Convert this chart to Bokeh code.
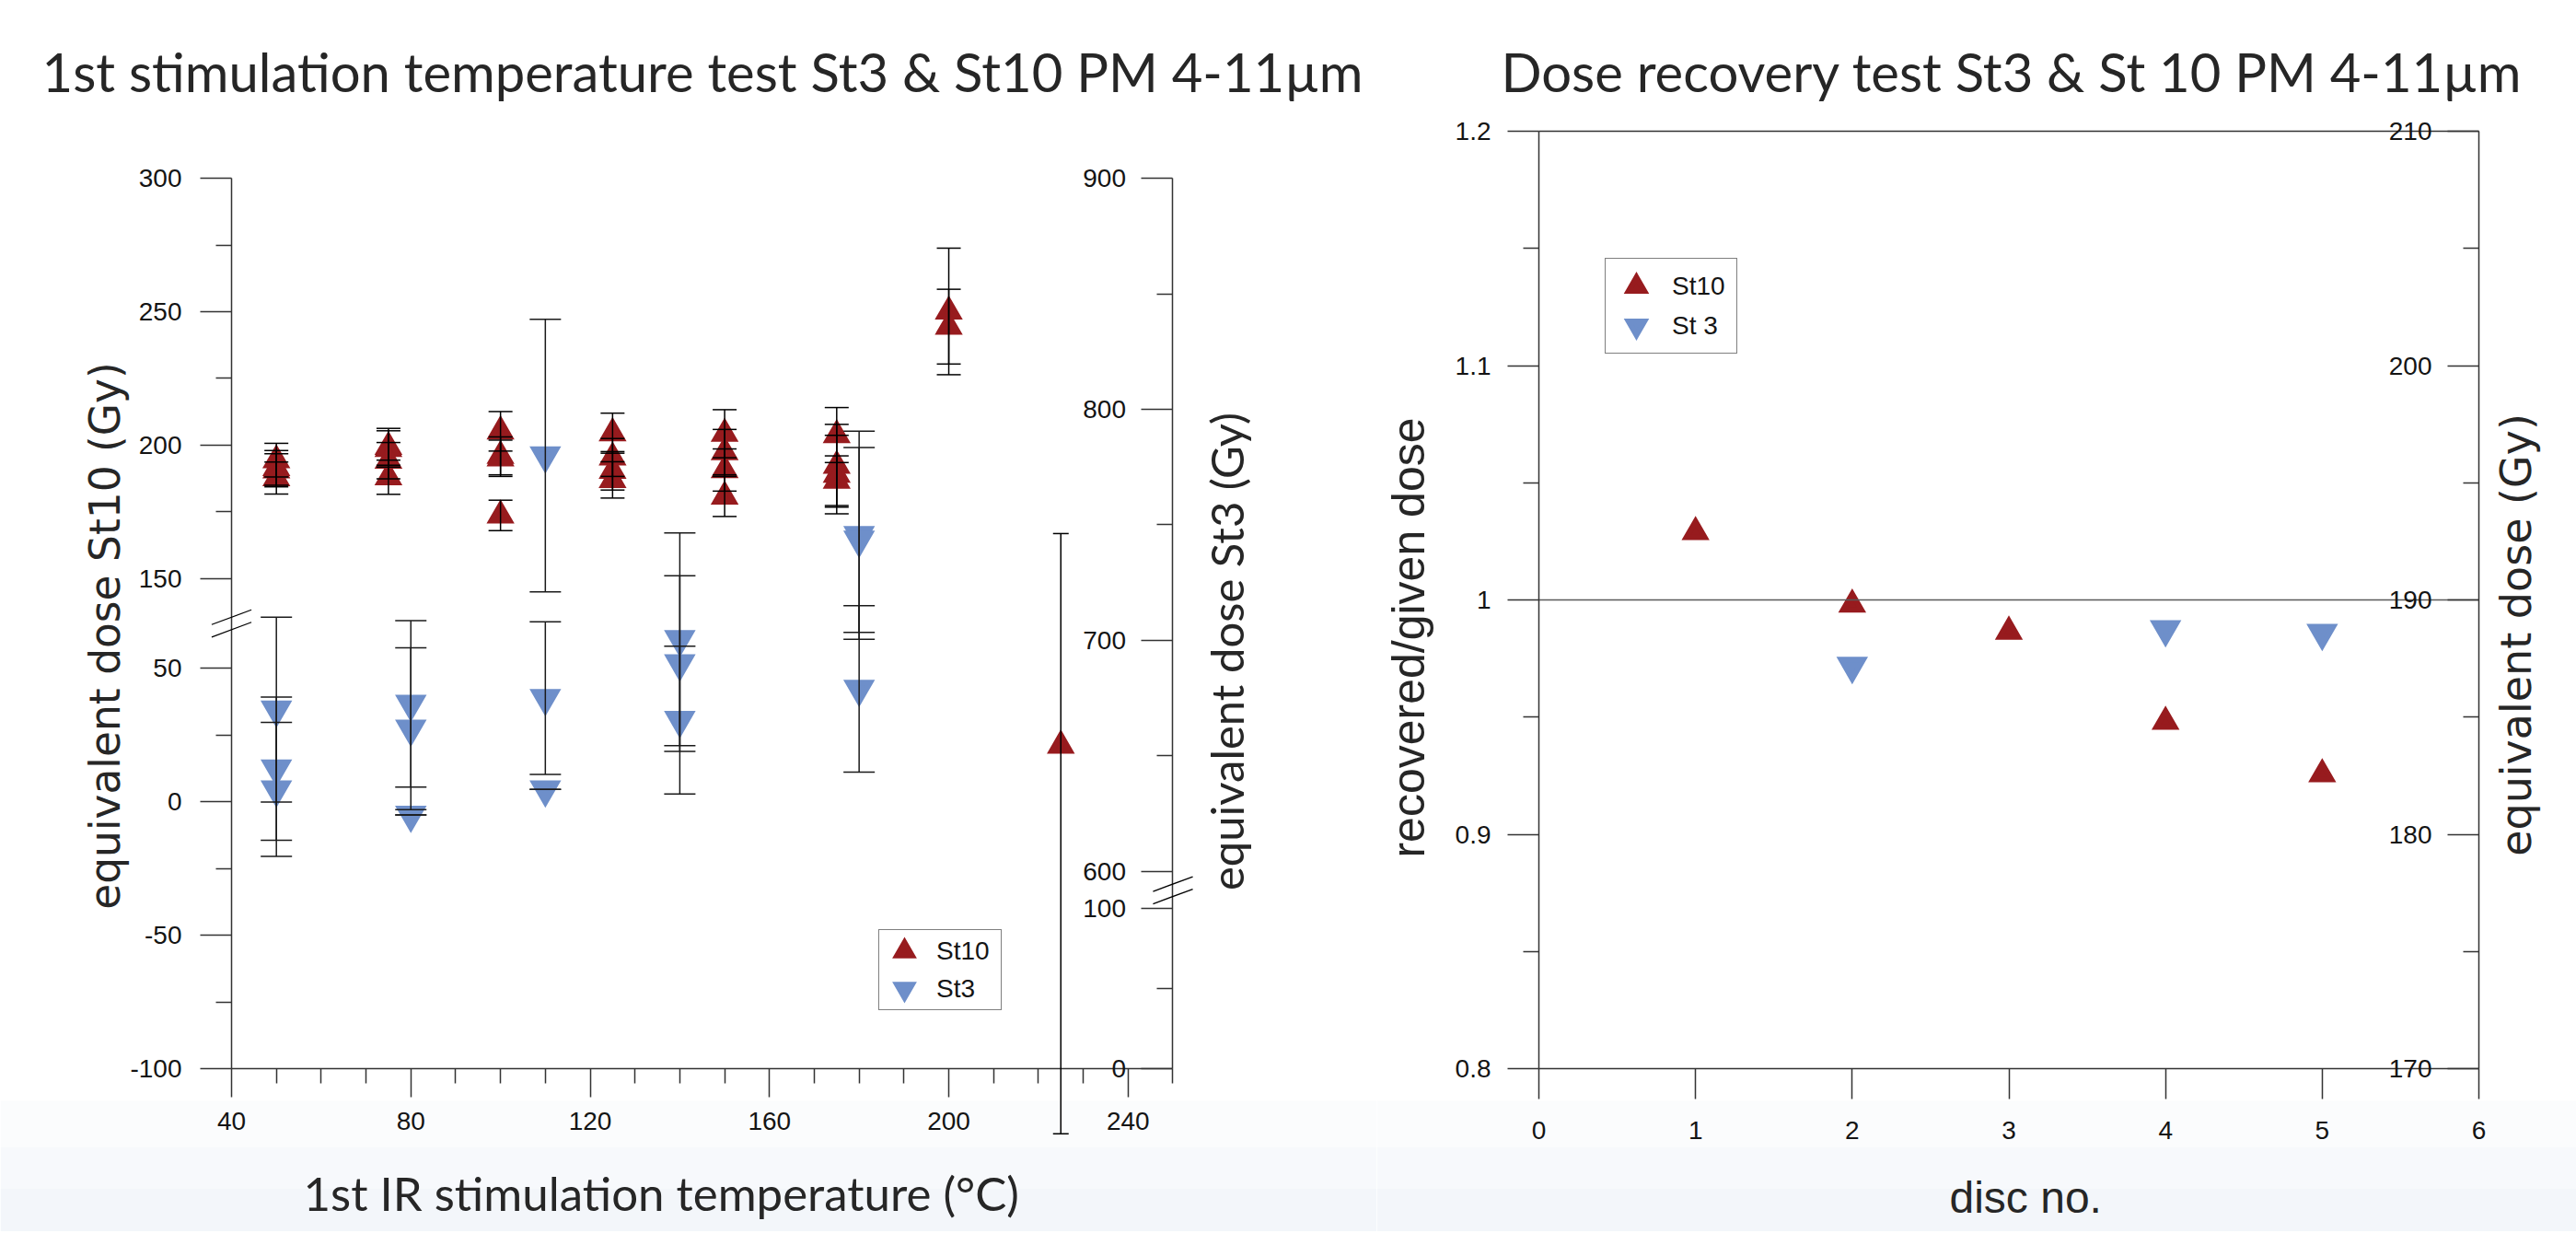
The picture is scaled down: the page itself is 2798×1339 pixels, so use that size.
import numpy as np
from bokeh.plotting import figure
from bokeh.models import (ColumnDataSource, Range1d, LinearAxis, FixedTicker, Whisker, TeeHead,
                          Legend, LegendItem, Label, LabelSet, Arrow, Title, BoxAnnotation)
from bokeh.layouts import row
from bokeh.embed import file_html
from bokeh.resources import INLINE
from bokeh.core.properties import value

# ------------------------------------------------------------------ data
# Left panel: 1st IR stimulation temperature test (St10 on left axis, St3 on right axis)
temp_st10 = [50, 50, 50, 50, 75, 75, 75, 75, 100, 100, 100, 100, 125, 125, 125, 125,
             150, 150, 150, 150, 175, 175, 175, 175, 200, 200]
de_st10 = [194.4, 191.5, 190.6, 187.7, 199.4, 198.6, 194.2, 188.0, 205.2, 196.0, 195.1, 173.7,
           204.5, 195.4, 190.4, 187.0, 204.3, 197.4, 190.7, 180.8, 203.8, 192.3, 189.0, 186.7,
           250.1, 244.4]
err_st10 = [6.3, 6.5, 6.2, 6.0, 6.9, 6.8, 6.8, 6.4, 7.4, 7.1, 6.8, 5.7, 7.5, 7.1, 7.2, 6.8,
            9.0, 8.5, 7.9, 7.5, 10.3, 15.5, 14.7, 9.3, 23.7, 14.0]

# St10 point at 225 °C, read on the lower part of the St10 axis
temp_st10_low = [225]
de_st10_low = [21.0]
upper_st10_low = [100.4]
lower_st10_low = [-124.4]

temp_st3 = [50, 50, 50, 80, 80, 80, 110, 110, 110, 140, 140, 140, 180, 180, 180]
de_st3 = [670.0, 644.5, 635.5, 672.5, 661.8, 624.5, 780.0, 675.0, 635.5,
          700.5, 690.0, 665.5, 745.5, 743.5, 679.0]
err_st3 = [40, 31, 29, 36, 35, 0, 59, 33, 0, 46, 38, 32, 45, 40, 36]

st10_ticks = [-100, -50, 0, 50, 150, 200, 250, 300]
st10_minor = [-75, -25, 25, 175, 225, 275]
st3_ticks = [0, 100, 600, 700, 800, 900]
st3_minor = [50, 650, 750, 850]
temp_ticks = [40, 80, 120, 160, 200, 240]
temp_minor = [50, 60, 70, 90, 100, 110, 130, 140, 150, 170, 180, 190, 210, 220, 230, 250]

# Right panel: dose recovery test
disc_st10 = [1, 2, 3, 4, 5]
ratio_st10 = [1.029, 0.998, 0.9865, 0.948, 0.9256]
disc_st3 = [2, 4, 5]
ratio_st3 = [0.9718, 0.9875, 0.9859]
ratio_ticks = [0.8, 0.9, 1.0, 1.1, 1.2]
ratio_labels = ["0.8", "0.9", "1", "1.1", "1.2"]
ratio_minor = [0.85, 0.95, 1.05, 1.15]
dose_ticks = [170, 180, 190, 200, 210]
dose_minor = [175, 185, 195, 205]
disc_ticks = [0, 1, 2, 3, 4, 5, 6]

# ------------------------------------------------------------------ broken axes
ST10_SHIFT = 66.5          # upper St10 segment (150-300) is pulled down by this much
ST10_BREAK = 66.75         # position of the break on the plotting scale
ST3_BREAK = -33.2


def st10_y(v):
    v = np.asarray(v, dtype=float)
    return np.where(v > 100, v - ST10_SHIFT, v)


def st3_y(v):
    v = np.asarray(v, dtype=float)
    return np.where(v > 300, -26.16 + (v - 600) * 0.8655, -100 + v * 0.5987)


def ratio_from_dose(d):
    d = np.asarray(d, dtype=float)
    return 0.8 + (d - 170) * 0.01


# ------------------------------------------------------------------ layout helpers (page px -> plot units)
X_PX, Y_PX = 4.869, 2.8995          # left panel: px per °C, px per plotting unit
D_PX, R_PX = 1021 / 6, 2545.0       # right panel: px per disc, px per ratio unit
P2_LEFT = 1495                      # page x where the right figure starts
P2_RIGHT = 2798
TOP, BOTTOM = 120, 1337


def fx1(px): return 40 + (px - 251) / X_PX
def fy1(py): return -100 + (1160 - py) / Y_PX
def fx2(px): return (px - 1671) / D_PX
def fy2(py): return 0.8 + (1160 - py) / R_PX


RED = "#971b1e"
BLUE = "#6e8fca"
AXIS = "#333333"
TXT = "#141414"
TTL = "#262626"
TICKF = "Liberation Sans"


def tick_axis(ticks, length, loc, bounds, line=True):
    ax = LinearAxis(ticker=FixedTicker(ticks=[], minor_ticks=list(ticks)), fixed_location=loc, bounds=bounds)
    ax.axis_line_color = AXIS if line else None
    ax.axis_line_width = 1.5
    ax.minor_tick_line_color = AXIS
    ax.minor_tick_line_width = 1.5
    ax.minor_tick_in = length
    ax.minor_tick_out = 0
    ax.major_tick_in = 0
    ax.major_tick_out = 0
    ax.major_label_standoff = 0
    return ax


def tick_labels(p, xs, ys, texts, x_offset=0, y_offset=0, align="center", baseline="middle"):
    src = ColumnDataSource(dict(x=list(xs), y=list(ys), t=list(texts)))
    p.add_layout(LabelSet(source=src, x="x", y="y", text="t", x_offset=x_offset, y_offset=y_offset,
                          text_align=align, text_baseline=baseline, text_font=value(TICKF),
                          text_font_size="28px", text_color=TXT))


def style_title(t, size, font="Lato"):
    t.text_font = font
    t.text_font_size = size
    t.text_font_style = "normal"
    t.text_color = TTL


def shade(p, fy):
    for a, b, c in ((1195, 1245, "#fbfcfd"), (1245, 1290, "#f7f9fc"), (1290, 1345, "#f3f6fa")):
        p.add_layout(BoxAnnotation(bottom=fy(b), top=fy(a), fill_color=c, fill_alpha=1.0,
                                   line_color=None, level="underlay"))


def whisk(src, cap, color="black"):
    return Whisker(source=src, base="x", upper="up", lower="lo", dimension="height",
                   line_color=color, line_width=1.5, level="overlay",
                   upper_head=TeeHead(size=cap, line_color=color, line_width=1.5),
                   lower_head=TeeHead(size=cap, line_color=color, line_width=1.5))


mk = dict(line_width=6, line_join="miter")

# ------------------------------------------------------------------ left figure
p1 = figure(x_range=Range1d(fx1(0), fx1(P2_LEFT)), y_range=Range1d(fy1(BOTTOM), fy1(TOP)),
            frame_width=P2_LEFT, frame_height=BOTTOM - TOP,
            min_border_left=0, min_border_right=0, min_border_top=TOP, min_border_bottom=0,
            x_axis_location=None, y_axis_location=None,
            output_backend="svg", toolbar_location=None)
p1.outline_line_color = None
p1.grid.visible = False
shade(p1, fy1)

yb_st10 = (-100, float(st10_y(300)))
yb_st3 = (-100, float(st3_y(900)))
p1.add_layout(tick_axis(st10_y(st10_ticks), 34, 40, yb_st10), "right")
p1.add_layout(tick_axis(st10_y(st10_minor), 17, 40, yb_st10, line=False), "right")
p1.add_layout(tick_axis(st3_y(st3_ticks), 34, 250, yb_st3), "right")
p1.add_layout(tick_axis(st3_y(st3_minor), 17, 250, yb_st3, line=False), "right")
p1.add_layout(tick_axis(temp_ticks, 31, -100, (40, 250)), "above")
p1.add_layout(tick_axis(temp_minor, 16, -100, (40, 250), line=False), "above")

tick_labels(p1, [40] * len(st10_ticks), st10_y(st10_ticks), [str(t) for t in st10_ticks],
            x_offset=-54, align="right")
tick_labels(p1, [250] * len(st3_ticks), st3_y(st3_ticks), [str(t) for t in st3_ticks],
            x_offset=-51, align="right")
tick_labels(p1, temp_ticks, [-100] * len(temp_ticks), [str(t) for t in temp_ticks],
            y_offset=-47, baseline="top")

# markers
s10 = ColumnDataSource(dict(x=temp_st10, y=st10_y(de_st10),
                            up=st10_y(np.add(de_st10, err_st10)),
                            lo=st10_y(np.subtract(de_st10, err_st10))))
s10b = ColumnDataSource(dict(x=temp_st10_low, y=de_st10_low, up=upper_st10_low, lo=lower_st10_low))
s3 = ColumnDataSource(dict(x=temp_st3, y=st3_y(de_st3),
                           up=st3_y(np.add(de_st3, err_st3)),
                           lo=st3_y(np.subtract(de_st3, err_st3))))

r10 = p1.scatter("x", "y", source=s10, marker="triangle", size=20, fill_color=RED, line_color=RED, **mk)
p1.scatter("x", "y", source=s10b, marker="triangle", size=20, fill_color=RED, line_color=RED, **mk)
r3 = p1.scatter("x", "y", source=s3, marker="inverted_triangle", size=24, fill_color=BLUE,
                line_color=BLUE, **mk)

p1.add_layout(whisk(s3, 34, "#1a1a1a"))
p1.add_layout(whisk(s10, 26))
p1.add_layout(whisk(s10b, 17))

# axis breaks
for yb, xb in ((ST10_BREAK, 40), (ST3_BREAK, 250)):
    for dy in (2.33, -2.33):
        p1.add_layout(Arrow(x_start=xb - 4.43, y_start=yb + dy - 2.76, x_end=xb + 4.43,
                            y_end=yb + dy + 2.76, end=None, line_color="black", line_width=1.3))

leg1 = Legend(items=[LegendItem(label="St10", renderers=[r10]), LegendItem(label="St3", renderers=[r3])],
              location=(954, BOTTOM - 1097), glyph_width=50, glyph_height=41, spacing=0, padding=2,
              label_standoff=10, label_width=68, margin=0, border_line_color="black",
              border_line_width=1.3, label_text_font=TICKF, label_text_font_size="28px",
              label_text_color=TXT)
p1.add_layout(leg1)

p1.add_layout(Label(x=40, y=fy1(690), x_offset=-111, angle=np.pi / 2, text="equivalent dose St10 (Gy)",
                    text_align="center", text_baseline="bottom", text_font="DejaVu Sans",
                    text_font_size="45.5px", text_color=TTL))
p1.add_layout(Label(x=250, y=fy1(707), x_offset=87.5, angle=np.pi / 2, text="equivalent dose St3 (Gy)",
                    text_align="center", text_baseline="bottom", text_font="Lato",
                    text_font_size="49px", text_color=TTL))
p1.add_layout(Label(x=40, y=-100, x_offset=78, y_offset=-135, text="1st IR stimulation temperature (°C)",
                    text_align="left", text_baseline="middle", text_font="Lato",
                    text_font_size="51px", text_color=TTL))

t1 = Title(text="1st stimulation temperature test St3 & St10 PM 4-11µm", align="left", offset=45,
           standoff=17)
style_title(t1, "58px")
p1.add_layout(t1, "above")

# ------------------------------------------------------------------ right figure
W2 = P2_RIGHT - P2_LEFT
p2 = figure(x_range=Range1d(fx2(P2_LEFT), fx2(P2_RIGHT)), y_range=Range1d(fy2(BOTTOM), fy2(TOP)),
            frame_width=W2, frame_height=BOTTOM - TOP,
            min_border_left=0, min_border_right=0, min_border_top=TOP, min_border_bottom=0,
            x_axis_location=None, y_axis_location=None,
            output_backend="svg", toolbar_location=None)
p2.outline_line_color = None
p2.grid.visible = False
shade(p2, fy2)

p2.add_layout(tick_axis(ratio_ticks, 34, 0, (0.8, 1.2)), "right")
p2.add_layout(tick_axis(ratio_minor, 17, 0, (0.8, 1.2), line=False), "right")
p2.add_layout(tick_axis(ratio_from_dose(dose_ticks), 34, 6, (0.8, 1.2)), "right")
p2.add_layout(tick_axis(ratio_from_dose(dose_minor), 17, 6, (0.8, 1.2), line=False), "right")
p2.add_layout(tick_axis(disc_ticks, 33, 0.8, (0, 6)), "above")
top_line = tick_axis([], 0, 1.2, (0, 6))
p2.add_layout(top_line, "above")
ref_line = tick_axis([], 0, 1.0, (0, 6))
ref_line.axis_line_color = "#5a5a5a"
p2.add_layout(ref_line, "above")

tick_labels(p2, [0] * len(ratio_ticks), ratio_ticks, ratio_labels, x_offset=-52, align="right")
tick_labels(p2, [6] * len(dose_ticks), ratio_from_dose(dose_ticks), [str(t) for t in dose_ticks],
            x_offset=-51, align="right")
tick_labels(p2, disc_ticks, [0.8] * len(disc_ticks), [str(t) for t in disc_ticks],
            y_offset=-57, baseline="top")

q10 = p2.scatter(disc_st10, ratio_st10, marker="triangle", size=20, fill_color=RED, line_color=RED, **mk)
q3 = p2.scatter(disc_st3, ratio_st3, marker="inverted_triangle", size=24, fill_color=BLUE,
                line_color=BLUE, **mk)

leg2 = Legend(items=[LegendItem(label="St10", renderers=[q10]), LegendItem(label="St 3", renderers=[q3])],
              location=(1743 - P2_LEFT, BOTTOM - 384), glyph_width=50, glyph_height=43, spacing=0,
              padding=8, label_standoff=14, label_width=62, margin=0, border_line_color="black",
              border_line_width=1.3, label_text_font=TICKF, label_text_font_size="28px",
              label_text_color=TXT)
p2.add_layout(leg2)

p2.add_layout(Label(x=0, y=fy2(692), x_offset=-114, angle=np.pi / 2, text="recovered/given dose",
                    text_align="center", text_baseline="bottom", text_font="Liberation Sans",
                    text_font_size="50px", text_color=TTL))
p2.add_layout(Label(x=6, y=fy2(689), x_offset=67, angle=np.pi / 2, text="equivalent dose (Gy)",
                    text_align="center", text_baseline="bottom", text_font="DejaVu Sans",
                    text_font_size="46px", text_color=TTL))
p2.add_layout(Label(x=0, y=0.8, x_offset=446, y_offset=-140, text="disc no.",
                    text_align="left", text_baseline="middle", text_font="Liberation Sans",
                    text_font_size="48px", text_color=TTL))

t2 = Title(text="Dose recovery test St3 & St 10 PM 4-11µm", align="left", offset=1630 - P2_LEFT,
           standoff=17)
style_title(t2, "58px")
p2.add_layout(t2, "above")

for p in (p1, p2):
    p.background_fill_color = "white"
    p.border_fill_color = "white"

layout = row(p1, p2)
open("out.html", "w").write(file_html(layout, INLINE))
